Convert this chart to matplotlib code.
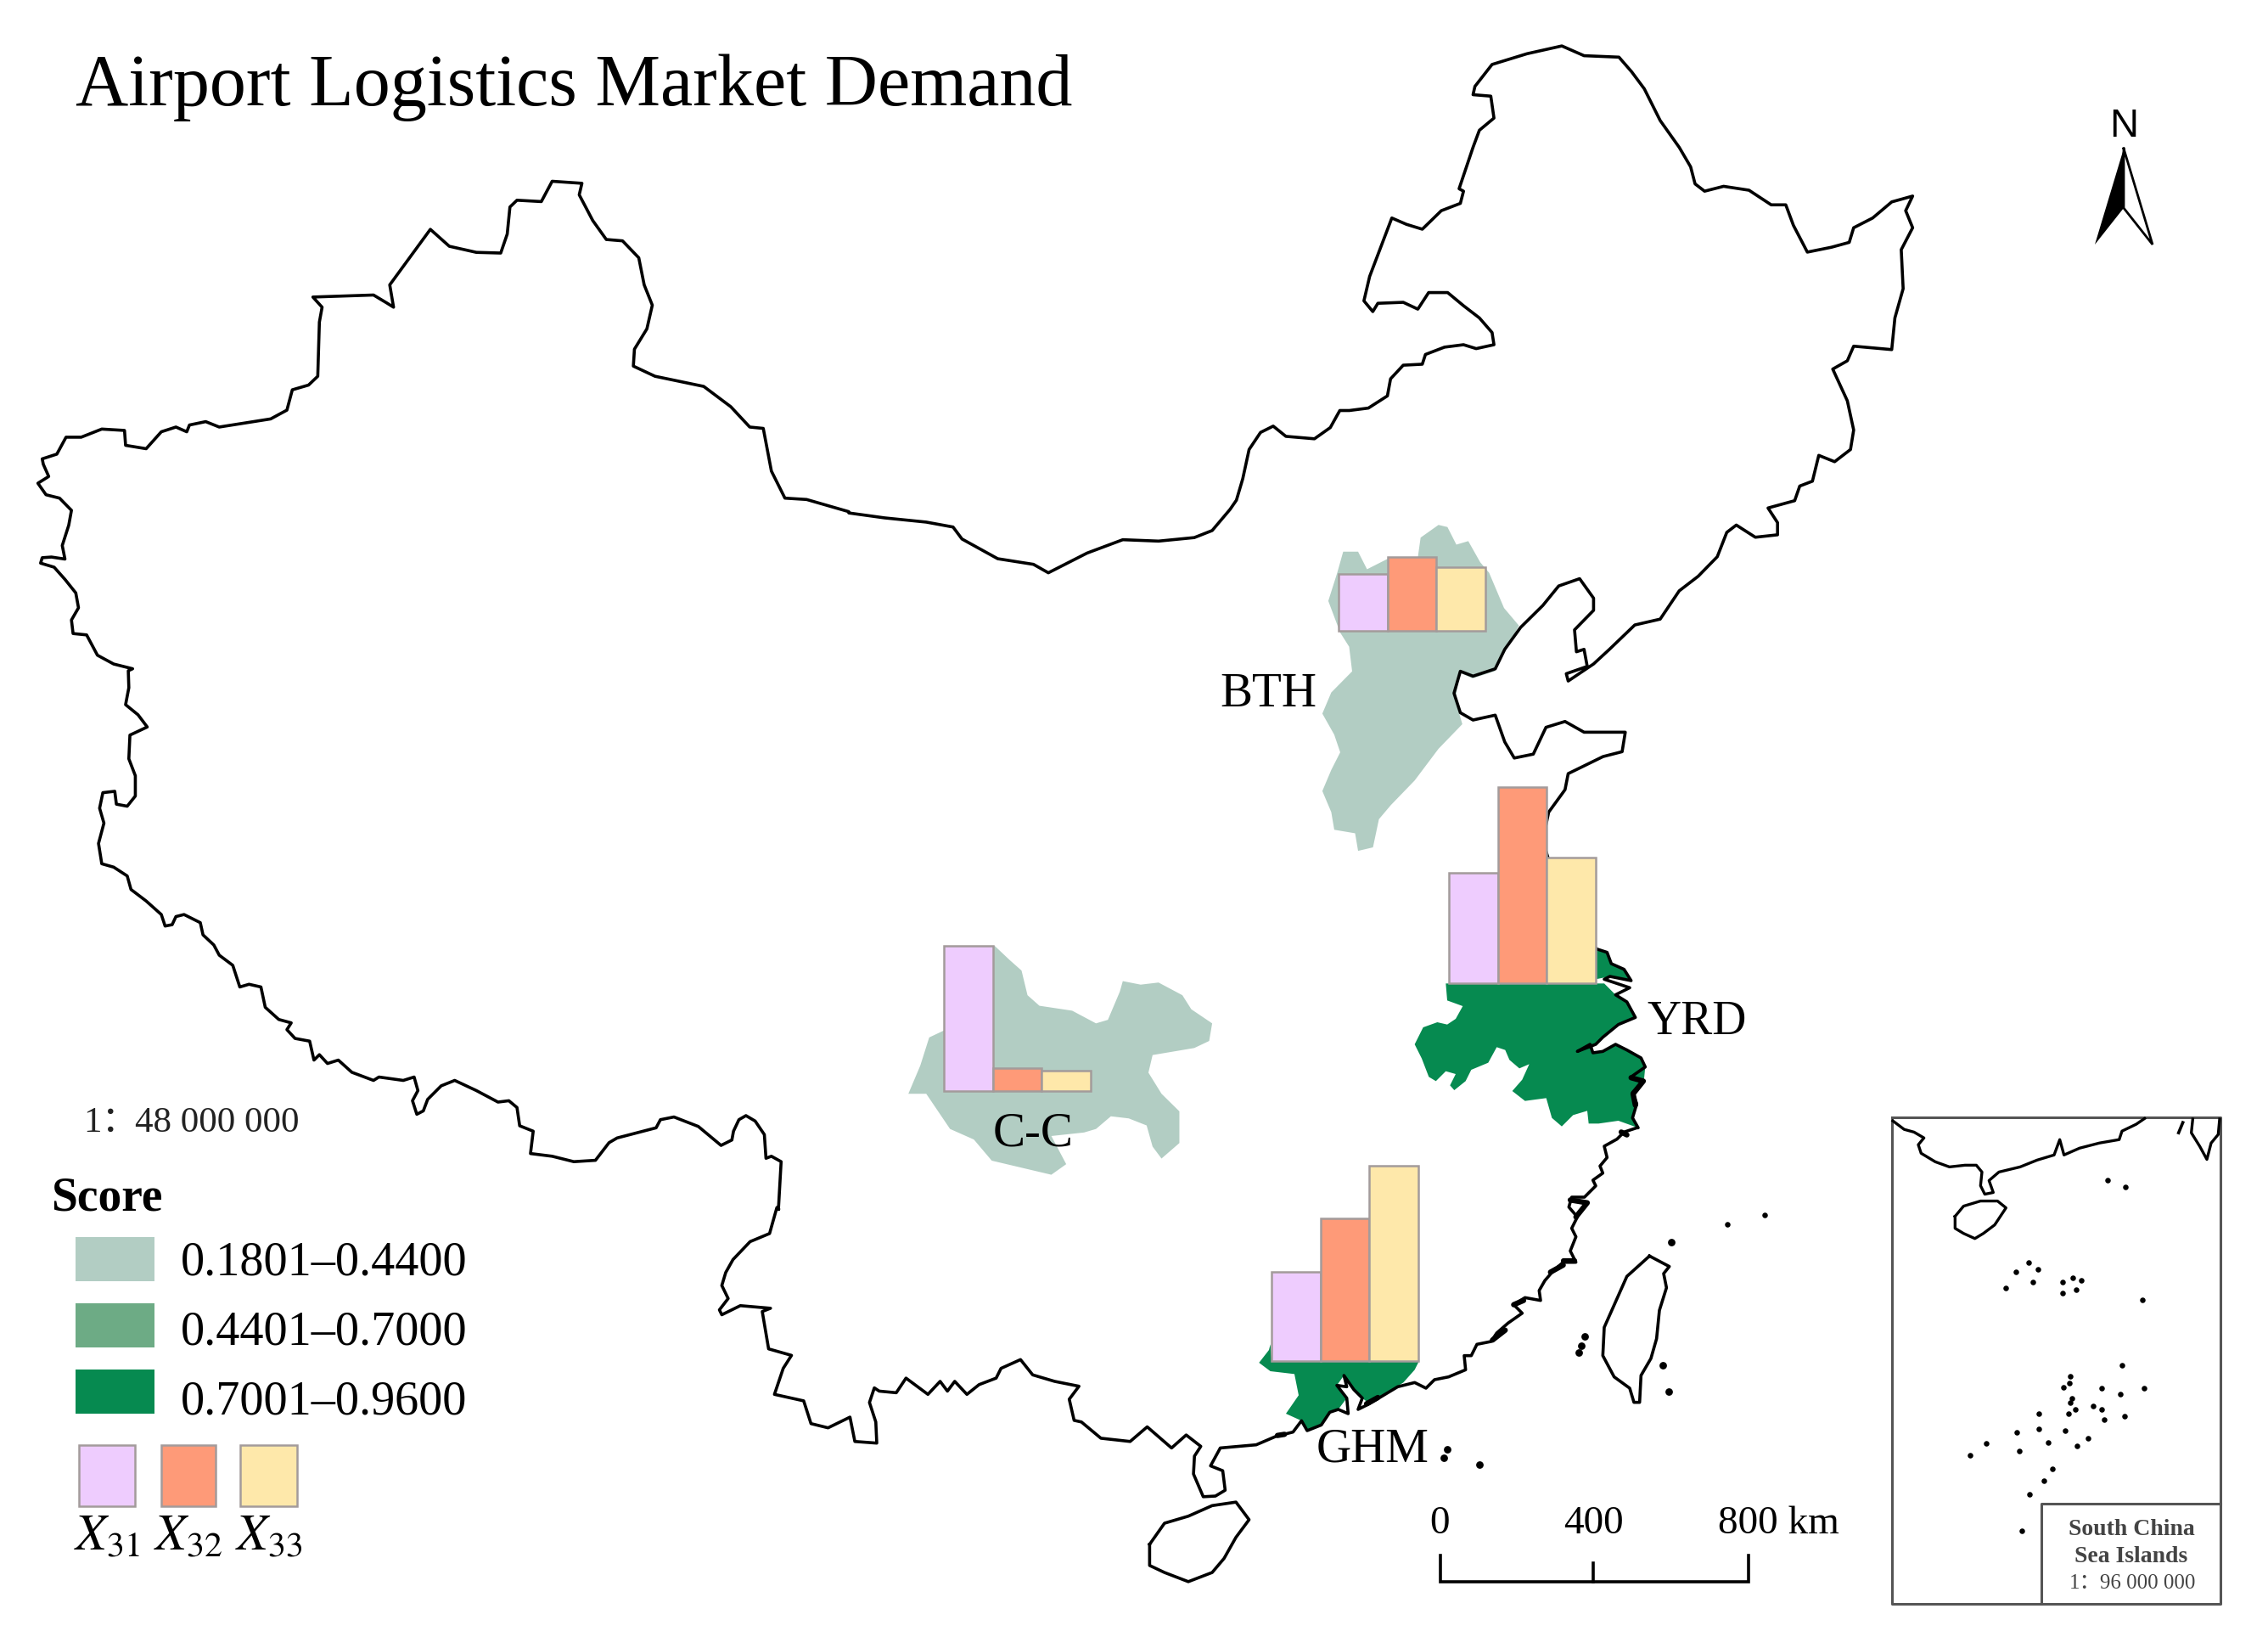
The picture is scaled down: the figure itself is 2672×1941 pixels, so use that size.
import matplotlib
matplotlib.use("Agg")
import matplotlib.pyplot as plt
import numpy as np

plt.rcParams['font.family'] = ['Liberation Serif', 'Noto Sans CJK SC', 'DejaVu Sans']
plt.rcParams['mathtext.fontset'] = 'stix'

# bars
regions = ['BTH', 'YRD', 'C-C', 'GHM']
x31 = [67, 130, 171, 105]
x32 = [87, 231, 27, 168]
x33 = [75, 148, 24, 230]
bar_left = [1577, 1707, 1112, 1498]
bar_base = [743, 1158, 1285, 1603]

score_labels = ['0.1801–0.4400', '0.4401–0.7000', '0.7001–0.9600']
score_colors = ['#b2cdc3', '#6dab85', '#068a50']
x_colors = ['#eeccfe', '#fe9a78', '#fee8aa']
x_labels = ['$X_{31}$', '$X_{32}$', '$X_{33}$']

# border traced in pieces, each piece in the coords of the crop it was read from
west_border = [(1438,1560),(1443,1490),(1425,1482),(1415,1485),(1412,1450),(1395,1430),(1378,1422),(1365,1428),(1355,1445),(1352,1458),(1332,1466),(1290,1438),(1245,1424),(1220,1428),(1212,1440),(1140,1455),(1125,1462),(1100,1488),(1060,1490),(1020,1482),(980,1478),(985,1445),(960,1437),(955,1410),(940,1400),(920,1402),(880,1385),(840,1370),(815,1378),(790,1398),(782,1415),(770,1420),(762,1400),(772,1385),(765,1365),(745,1370),(700,1365),(690,1370),(650,1358),(625,1340),(605,1345),(590,1332),(580,1340),(572,1312),(545,1308),(530,1295),(538,1285),(515,1280),(490,1262),(482,1232),(460,1228),(443,1232),(430,1200),(405,1185),(395,1170),(375,1155),(370,1137),(340,1125),(325,1128),(318,1140),(305,1142),(298,1125),(270,1105),(242,1088),(235,1068),(210,1055),(188,1050),(182,1020),(192,990),(184,968),(190,945),(212,943),(215,962),(235,965),(250,950),(250,920),(238,895),(240,860),(272,848),(255,830),(232,815),(238,790),(237,765),(245,762),(210,755),(180,742),(160,712),(135,710),(132,690),(145,672),(140,650),(120,630),(100,612),(75,606),(78,598),(95,597),(120,600),(115,580),(127,550),(132,528),(110,510),(85,505),(70,488),(90,478),(80,460),(78,452),(105,445),(122,420),(150,420),(188,408),(230,410),(232,432),(270,437),(298,412),(325,405),(345,412),(350,402),(380,397),(405,405),(500,393),(530,380),(540,350),(570,343),(587,330),(590,250),(595,228),(578,213),(690,210),(715,222),(727,228),(720,195),(795,113),(830,138),(880,147),(925,148),(937,120),(942,80),(955,70),(1000,72),(1020,42),(1075,45),(1070,62),(1095,100),(1120,128),(1150,130),(1180,155),(1190,195),(1205,225),(1195,260),(1172,290),(1170,315),(1210,330),(1300,345),(1350,375),(1385,405),(1410,407),(1425,470),(1450,510),(1490,512),(1568,530)]
north_border_a = [(0,5),(60,12),(130,18),(175,25),(190,42),(250,70),(310,78),(335,90),(400,62),(460,43),(520,45),(580,40),(610,30),(640,0)]
north_border_b = [(-58,974),(-48,930),(-38,870),(-20,835),(0,822),(20,843),(65,848),(90,825),(105,790),(120,790),(150,785),(180,760),(185,725),(205,697),(235,695),(240,675),(270,660),(300,655),(320,663),(348,655),(345,630),(325,600),(300,575),(275,548),(245,548),(228,582),(205,568),(165,570),(157,587),(143,565),(152,515),(187,395),(210,408),(235,418),(265,380),(295,365),(300,340),(293,335),(315,250),(325,215),(348,190),(343,145),(315,142),(318,125),(345,80),(400,58),(455,42),(490,62),(545,65),(565,95),(585,130),(610,195),(640,250),(658,290),(665,325),(680,340),(710,330),(750,338),(785,368),(808,368),(820,410),(842,465),(880,455),(908,445),(915,415),(945,395),(975,362),(1008,350),(997,380),(1008,415),(990,460),(993,540),(980,600),(975,665),(915,658),(905,688),(882,705),(905,770),(915,830),(910,870),(885,895),(860,882),(850,935),(830,945),(822,975),(780,990),(795,1020),(795,1045),(760,1050),(730,1025),(715,1040),(700,1090),(670,1130),(640,1160),(610,1218),(570,1230),(530,1280),(505,1310),(465,1345),(462,1330),(495,1315),(490,1280),(478,1285),(475,1240),(505,1200),(505,1175),(483,1135),(450,1150),(425,1190),(390,1235),(365,1280),(350,1320),(315,1335),(295,1325),(285,1370),(295,1410),(315,1425),(350,1415),(365,1470),(380,1503),(410,1495),(430,1440),(460,1428),(490,1450),(555,1450),(550,1490),(520,1500),(465,1535),(460,1568)]
jiangsu_coast = [(1175,430),(1165,470),(1190,540),(1230,600),(1254,623)]
yrd_coast = [(690,172),(730,185),(745,225),(790,245),(815,285),(740,270),(720,280),(810,310),(760,335),(800,360),(830,415),(770,440),(715,485),(690,510),(625,535),(670,510),(680,540),(715,535),(760,510),(800,530),(850,558),(865,590),(815,625),(860,640),(820,680),(835,720),(820,770),(840,805)]
south_coast = [(1345,85),(1300,100),(1275,125),(1230,150),(1240,190),(1215,220),(1225,245),(1190,270),(1200,290),(1160,330),(1115,330),(1105,365),(1135,400),(1115,440),(1130,470),(1110,520),(1130,560),(1085,560),(1050,590),(1020,625),(1000,660),(1005,695),(950,685),(910,710),(940,740),(890,775),(850,810),(830,840),(780,850),(760,890),(735,890),(740,940),(680,965),(630,975),(600,1005),(560,985),(500,1000),(450,1030),(400,1060),(360,1080),(375,1040),(345,1010),(310,960),(320,1000),(285,995),(320,1040),(325,1095),(290,1080),(260,1090),(230,1135),(180,1155),(160,1120),(130,1160),(70,1175),(0,1205)]
south_border = [(1285,1190),(1265,1245),(1290,1260),(1295,1320),(1275,1338),(1250,1340),(1230,1270),(1232,1215),(1245,1185),(1215,1150),(1185,1190),(1135,1125),(1100,1170),(1040,1160),(1000,1110),(985,1105),(975,1040),(995,1000),(945,985),(900,965),(875,918),(835,945),(825,975),(790,995),(765,1025),(740,985),(725,1015),(710,985),(685,1025),(640,975),(620,1020),(585,1015),(575,1005),(565,1050),(578,1110),(580,1175),(535,1170),(525,1095),(480,1128),(445,1115),(430,1045),(370,1025),(388,945),(405,905),(358,885),(345,770),(362,760),(300,752),(262,780),(257,765),(275,730),(262,690),(270,650),(285,610),(320,555),(360,530),(375,450)]
hainan = [(505,1470),(530,1440),(570,1430),(610,1415),(650,1410),(672,1435),(650,1460),(630,1490),(610,1510),(570,1523),(530,1510),(505,1500),(505,1470)]
taiwan = [(1390,538),(1460,575),(1440,600),(1450,650),(1425,730),(1415,830),(1395,900),(1360,960),(1355,1055),(1335,1055),(1320,1005),(1265,965),(1225,890),(1230,790),(1270,700),(1310,610),(1360,565),(1390,538)]
islands_far = [(1475,1015),(1538,1002)]
islands_near = [(1468,490),(1160,822),(1150,855),(1140,880),(1438,925),(1458,1018),(675,1222),(663,1250),(790,1275)]
# stretches where the islets merge into a thick black band
coast_bands_f = [[(1110,340),(1170,350),(1130,400)],[(1085,555),(1125,555)],[(910,710),(945,695)],[(835,835),(880,800)],[(1040,595),(1085,570)],[(1290,100),(1310,110)],[(75,1172),(100,1168)],[(390,1060),(430,1038)]]
coast_bands_g = [[(815,628),(858,640),(822,685),(830,725)]]

bth_area = [(990,22),(960,40),(955,70),(905,70),(870,85),(855,60),(830,60),(820,90),(805,130),(825,175),(840,195),(845,230),(810,260),(795,290),(815,320),(825,345),(810,370),(795,400),(810,430),(815,455),(850,460),(855,485),(880,480),(890,440),(910,420),(950,385),(990,340),(1030,305),(1018,270),(1026,232),(1047,240),(1084,230),(1103,199),(1125,165),(1100,140),(1075,90),(1060,75),(1040,45),(1020,50),(1005,25)]
cc_area = [(245,620),(270,640),(290,655),(300,690),(320,705),(375,712),(415,730),(435,725),(455,685),(460,670),(490,675),(520,672),(560,690),(575,710),(610,730),(605,755),(580,765),(510,775),(503,800),(525,830),(555,855),(555,900),(525,922),(510,905),(500,875),(470,865),(440,862),(415,880),(395,885),(340,890),(365,930),(340,945),(290,935),(240,925),(210,895),(170,880),(130,830),(100,830),(120,790),(135,750),(160,740),(160,620)]
yrd_area = [(160,295),(165,355),(220,375),(195,420),(165,440),(130,432),(80,450),(50,510),(75,560),(100,625),(125,640),(160,605),(195,615),(175,655),(190,672),(230,640),(250,600),(310,575),(340,520),(370,530),(385,565),(420,595),(455,580),(430,635),(395,675),(440,710),(515,700),(535,770),(570,800),(610,760),(660,745),(665,790),(700,790),(770,780),(840,805),(820,770),(835,720),(820,680),(860,640),(865,590),(850,558),(800,530),(760,510),(715,535),(680,540),(670,510),(625,535),(690,510),(715,485),(770,440),(830,415),(800,360),(760,335),(720,295)]
yrd_top = [(690,172),(730,185),(745,225),(790,245),(815,285),(740,270),(690,280)]
ghm_area = [(10,915),(45,870),(50,850),(55,910),(575,910),(560,940),(520,985),(450,1030),(400,1060),(375,1040),(345,1010),(310,960),(285,995),(320,1040),(290,1080),(260,1090),(230,1135),(180,1155),(160,1120),(105,1095),(150,1030),(135,955),(50,945)]

inset_coast = [(90,75),(130,100),(165,108),(200,125),(180,145),(190,170),(240,195),(290,210),(345,205),(385,205),(405,225),(400,265),(415,290),(445,285),(430,250),(465,225),(540,210),(600,190),(660,175),(680,130),(695,175),(750,155),(820,140),(890,130),(900,105),(950,85),(980,68)]
inset_hainan = [(310,355),(340,325),(400,310),(460,310),(490,330),(450,380),(410,405),(380,420),(340,405),(310,390),(310,355)]
inset_taiwan = [(1150,70),(1145,110),(1175,150),(1200,188),(1215,140),(1240,115),(1245,70)]
inset_islands = [(850,248),(912,268),(570,490),(525,517),(603,510),(585,548),(490,565),(690,547),(725,534),(757,542),(690,581),(737,570),(972,600),(900,792),(718,823),(715,845),(693,857),(827,858),(977,859),(894,877),(722,888),(716,900),(736,920),(797,912),(828,920),(710,934),(607,934),(837,951),(910,942),(605,977),(700,982),(528,989),(420,1020),(780,1005),(639,1018),(741,1027),(536,1042),(362,1056),(655,1095),(625,1131),(572,1170),(545,1277)]


def crop_a(pts):
    p = np.array(pts, dtype=float)
    return p / [1.568, 1.254] + [0, 180]

def crop_b(pts):
    p = np.array(pts, dtype=float)
    return p / [1.425, 1.206] + [1000, 600]

def crop_c(pts):
    p = np.array(pts, dtype=float)
    return p / [1.338, 1.742] + [1500, 30]

def crop_d(pts):
    p = np.array(pts, dtype=float)
    return p / [1.742, 2.613] + [700, 1250]

def crop_e(pts):
    p = np.array(pts, dtype=float)
    return p / [3.0, 2.489] + [2200, 1290]

def crop_f(pts):
    return np.array(pts, dtype=float) / 3.0 + [1480, 1300]

def crop_g(pts):
    return np.array(pts, dtype=float) / 3.0 + [1650, 1060]


fig = plt.figure(figsize=(26.72, 19.41), dpi=100)
ax = fig.add_axes([0, 0, 1, 1])
ax.set_xlim(0, 2672)
ax.set_ylim(1941, 0)
ax.axis('off')

# region fills
for p, col in [(crop_b(bth_area), score_colors[0]), (crop_b(cc_area), score_colors[0]),
               (crop_g(yrd_area), score_colors[2]), (crop_g(yrd_top), score_colors[2]),
               (crop_f(ghm_area), score_colors[2])]:
    ax.fill(p[:, 0], p[:, 1], color=col, lw=0, zorder=1)

# border
border = np.vstack([crop_a(west_border), crop_b(north_border_a), crop_c(north_border_b),
                    crop_b(jiangsu_coast), crop_g(yrd_coast), crop_f(south_coast),
                    crop_d(south_border), crop_a(west_border[:1])])
ax.plot(border[:, 0], border[:, 1], color='black', lw=2.6, zorder=2, solid_joinstyle='round')
for p in [crop_b(hainan), crop_f(taiwan)]:
    ax.plot(p[:, 0], p[:, 1], color='black', lw=2.6, zorder=2)
for band in coast_bands_f:
    p = crop_f(band)
    ax.plot(p[:, 0], p[:, 1], color='black', lw=4.5, zorder=2, solid_capstyle='round')
for band in coast_bands_g:
    p = crop_g(band)
    ax.plot(p[:, 0], p[:, 1], color='black', lw=4.5, zorder=2, solid_capstyle='round')
p = crop_b(islands_far)
ax.scatter(p[:, 0], p[:, 1], s=22, color='black', lw=0, zorder=2)
p = crop_f(islands_near)
ax.scatter(p[:, 0], p[:, 1], s=40, color='black', lw=0, zorder=2)

# bars
bar_w = 57.5
for i in range(len(regions)):
    vals = [x31[i], x32[i], x33[i]]
    xs = [bar_left[i] + k * bar_w for k in range(3)]
    ax.bar(xs, [-v for v in vals], width=bar_w, bottom=bar_base[i], align='edge',
           color=x_colors, edgecolor='#a39b9b', linewidth=1.8, zorder=3)

# region labels
ax.text(1437, 832, 'BTH', fontsize=41, va='baseline', ha='left', zorder=4)
ax.text(1940, 1218, 'YRD', fontsize=40, va='baseline', ha='left', zorder=4)
ax.text(1170, 1350, 'C-C', fontsize=41, va='baseline', ha='left', zorder=4)
ax.text(1551, 1722, 'GHM', fontsize=41, va='baseline', ha='left', zorder=4)

ax.text(89, 124, 'Airport Logistics Market Demand', fontsize=62, va='baseline', ha='left')

# left legend
ax.text(98, 1323, '1：', fontsize=31, va='center', ha='left', color='#222222')
ax.text(159, 1323, '48 000 000', fontsize=31, va='center', ha='left', color='#222222')
ax.text(60, 1426, 'Score', fontsize=40, fontweight='bold', va='baseline', ha='left')
for y0, y_lab, lab, col in zip([1457, 1535, 1613], [1487, 1569, 1651], score_labels, score_colors):
    ax.fill_between([89, 182], y0, y0 + 52, color=col, lw=0)
    ax.text(213, y_lab, lab, fontsize=40.5, va='center', ha='left')
for x0, w, lab, col in zip([93, 190, 283], [66, 64, 67], x_labels, x_colors):
    ax.fill([x0, x0 + w, x0 + w, x0], [1702, 1702, 1774, 1774], facecolor=col, edgecolor='#a39b9b', lw=1.8)
    ax.text(x0 + w / 2, 1825, lab, fontsize=43, va='baseline', ha='center')

# scale bar
ax.plot([1697, 1697, 2060, 2060], [1832, 1863, 1863, 1832], color='black', lw=2.6, solid_joinstyle='miter')
ax.plot([1877, 1877], [1841, 1863], color='black', lw=2.6)
ax.text(1696, 1795, '0', fontsize=34, ha='center', va='center')
ax.text(1877, 1795, '400', fontsize=34, ha='center', va='center')
ax.text(2024, 1795, '800 km', fontsize=34, ha='left', va='center')

# north arrow
ax.text(2502, 149, 'N', fontsize=34, family='Liberation Sans', ha='center', va='center')
ax.fill([2502, 2468, 2502], [175, 288, 245], color='black', lw=0)
ax.plot([2502, 2536, 2502, 2502], [175, 288, 245, 175], color='black', lw=2.0, solid_joinstyle='miter')

# inset
ax.plot([2229, 2616, 2616, 2229, 2229], [1316, 1316, 1889, 1889, 1316], color='#555555', lw=2.2)
ax.plot([2405, 2405, 2616], [1889, 1771, 1771], color='#555555', lw=2.2)
for line in [inset_coast, inset_hainan, inset_taiwan]:
    p = crop_e(line)
    ax.plot(p[:, 0], p[:, 1], color='black', lw=2.4)
p = crop_e([(1100, 110), (1115, 80)])
ax.plot(p[:, 0], p[:, 1], color='black', lw=2.6)
p = crop_e(inset_islands)
ax.scatter(p[:, 0], p[:, 1], s=22, color='black', lw=0)
ax.text(2511, 1802, 'South China', fontsize=20, fontweight='bold', color='#444444', ha='center', va='center')
ax.text(2511, 1834, 'Sea Islands', fontsize=20, fontweight='bold', color='#444444', ha='center', va='center')
ax.text(2438, 1865, '1：', fontsize=18, color='#444444', ha='left', va='center')
ax.text(2474, 1865, '96 000 000', fontsize=18, color='#444444', ha='left', va='center')

fig.savefig('out.png', dpi=100)
